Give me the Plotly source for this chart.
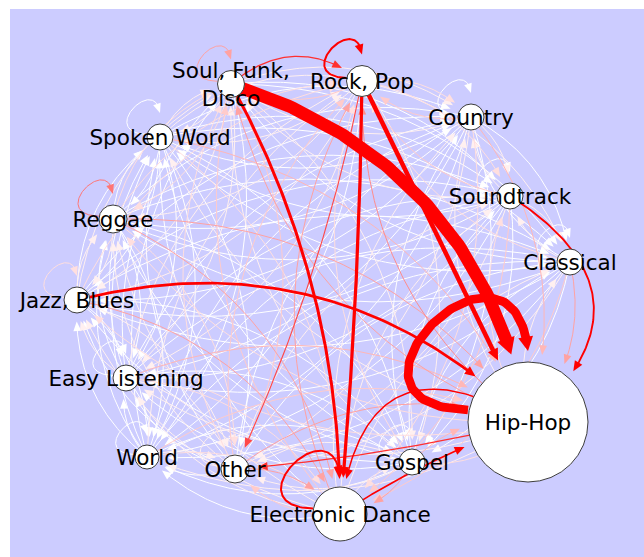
import numpy as np
import plotly.graph_objects as go

# ---------------- data ----------------
genres = ["Soul, Funk,<br>Disco", "Rock, Pop", "Country", "Soundtrack", "Classical",
          "Hip-Hop", "Gospel", "Electronic Dance", "Other", "World",
          "Easy Listening", "Jazz, Blues", "Reggae", "Spoken Word"]

# layout coordinates of the nodes (network layout, pixel-like units, y downwards)
node_x = [231, 362, 471, 510, 570, 528, 412, 340, 235, 147, 126, 77, 113, 160]
node_y = [84, 81, 117, 196, 262, 422, 462, 514, 469, 457, 378, 300, 219, 137]

# node weight (drives node area)
node_value = [38, 96, 25, 25, 25, 3456, 25, 585, 52, 0, 25, 25, 52, 25]

# transitions: row = source genre, column = target genre
#            Soul Rock Cty Snd Cls  Hip Gos Ele Oth Wld Esy Jaz Reg Spk
flows = [
    [5, 10, 1, 0, 0, 100, 1, 24, 3, 0, 1, 1, 2, 1],   # Soul, Funk, Disco
    [3, 16, 2, 2, 1, 36, 1, 26, 9, 0, 1, 1, 1, 1],    # Rock, Pop
    [1, 3, 0, 1, 0, 4, 0, 2, 1, 0, 0, 0, 0, 0],       # Country
    [1, 3, 1, 0, 1, 15, 0, 3, 1, 0, 0, 0, 0, 0],      # Soundtrack
    [0, 2, 0, 1, 0, 5, 0, 3, 1, 0, 0, 0, 0, 0],       # Classical
    [5, 6, 1, 2, 1, 70, 2, 12, 10, 1, 1, 2, 2, 1],    # Hip-Hop
    [1, 2, 0, 0, 0, 4, 0, 5, 1, 0, 0, 0, 0, 0],       # Gospel
    [3, 5, 1, 1, 1, 13, 1, 16, 3, 0, 1, 1, 1, 0],     # Electronic Dance
    [2, 3, 0, 1, 0, 5, 1, 5, 1, 0, 0, 0, 1, 0],       # Other
    [0, 1, 0, 0, 0, 3, 0, 2, 1, 0, 0, 0, 0, 0],       # World
    [0, 1, 0, 0, 0, 4, 0, 2, 1, 0, 0, 1, 0, 0],       # Easy Listening
    [1, 2, 0, 0, 0, 22, 0, 5, 1, 0, 0, 2, 1, 0],      # Jazz, Blues
    [2, 2, 0, 0, 0, 5, 0, 5, 2, 0, 0, 1, 7, 0],       # Reggae
    [1, 1, 0, 0, 0, 4, 0, 2, 0, 0, 0, 0, 0, 0],       # Spoken Word
]

# ---------------- styling helpers ----------------
DEFAULT_BEND = 0.13
bend_override = {(3, 5): 0.33, (5, 7): -0.38, (1, 7): 0.01, (1, 8): 0.03,
                 (0, 7): 0.065, (11, 5): 0.14, (0, 5): 0.15, (1, 5): 0.0,
                 (7, 5): 0.03, (5, 8): 0.02, (0, 1): 0.2}
GAP = 8
LOOP_GAP = 11
LABEL_DY = 3

n = len(genres)
radius = [float(np.sqrt(144 + v)) for v in node_value]


def edge_color(w):
    f = min(1.0, w / 12.0) ** 1.15
    g = int(round(255 * (1 - f)))
    return f"rgb(255,{g},{g})"


def edge_width(w):
    return max(1.0, w / 8.0)


def curve_points(i, j):
    ax, ay = node_x[i], node_y[i]
    bx, by = node_x[j], node_y[j]
    t = np.linspace(0, 1, 300)[:, None]
    if i == j:
        r = radius[i]
        k = 2.3 * r + 20
        P0 = np.array([ax - r, ay - 0.2 * r])
        P1 = np.array([ax - r - k, ay - 0.2 * r - 0.03 * k])
        P2 = np.array([ax - 0.1 * k, ay - r - k])
        P3 = np.array([ax, ay - r - LOOP_GAP])
        pts = ((1 - t) ** 3) * P0 + 3 * ((1 - t) ** 2) * t * P1 + 3 * (1 - t) * t ** 2 * P2 + t ** 3 * P3
        return pts
    A = np.array([ax, ay], float)
    B = np.array([bx, by], float)
    d = B - A
    L = np.hypot(*d)
    nrm = np.array([d[1], -d[0]]) / L
    c = bend_override.get((i, j), DEFAULT_BEND)
    C = (A + B) / 2 + 2 * c * L * nrm
    return ((1 - t) ** 2) * A + 2 * (1 - t) * t * C + t ** 2 * B


def trimmed(i, j, width):
    pts = curve_points(i, j)
    tx, ty = node_x[j], node_y[j]
    R = radius[j] + GAP
    dist = np.hypot(pts[:, 0] - tx, pts[:, 1] - ty)
    idx = len(pts) - 1
    while idx > 0 and dist[idx] <= R:
        idx -= 1
    tip = pts[idx]
    alen = 9 + 0.6 * width
    half = 3.5 + 0.45 * width
    acc = 0.0
    k = idx
    while k > 0 and acc < alen:
        acc += np.hypot(*(pts[k] - pts[k - 1]))
        k -= 1
    base = pts[k]
    u = tip - base
    u = u / np.hypot(*u)
    base = tip - alen * u
    perp = np.array([-u[1], u[0]])
    tri = np.array([tip, base + half * perp, base - half * perp, tip])
    kk = idx
    acc = 0.0
    while kk > 0 and acc < 0.7 * alen:
        acc += np.hypot(*(pts[kk] - pts[kk - 1]))
        kk -= 1
    line = pts[:kk + 1]
    return line, tri


edges = [(flows[i][j], i, j) for i in range(n) for j in range(n)]
edges.sort(key=lambda e: e[0])

fig = go.Figure()
for w, i, j in edges:
    col = edge_color(w)
    wd = edge_width(w)
    line, tri = trimmed(i, j, wd)
    fig.add_trace(go.Scatter(x=line[::3, 0].tolist() + [line[-1, 0]],
                             y=line[::3, 1].tolist() + [line[-1, 1]],
                             mode="lines", line=dict(color=col, width=wd),
                             hoverinfo="skip", showlegend=False))
    fig.add_trace(go.Scatter(x=tri[:, 0], y=tri[:, 1], mode="lines", fill="toself",
                             fillcolor=col, line=dict(width=0, color=col),
                             hoverinfo="skip", showlegend=False))

fig.add_trace(go.Scatter(x=node_x, y=node_y, mode="markers",
                         marker=dict(size=[2 * r for r in radius], color="white", opacity=1,
                                     line=dict(color="#3c3c3c", width=1)),
                         hoverinfo="skip", showlegend=False))
fig.add_trace(go.Scatter(x=node_x, y=[y + LABEL_DY for y in node_y], mode="text", text=genres,
                         textposition="middle center",
                         textfont=dict(family="DejaVu Sans", size=21.5, color="#000000"),
                         hoverinfo="skip", showlegend=False))

fig.update_layout(width=644, height=557, margin=dict(l=10, r=0, t=9, b=0, pad=0),
                  paper_bgcolor="white", plot_bgcolor="#CCCCFF",
                  xaxis=dict(range=[10, 644], visible=False, fixedrange=True),
                  yaxis=dict(range=[557, 9], visible=False, fixedrange=True),
                  showlegend=False)

fig.write_html("out.html", config={"displayModeBar": False},
               post_script="document.body.style.margin='0';document.body.style.overflow='hidden';")
